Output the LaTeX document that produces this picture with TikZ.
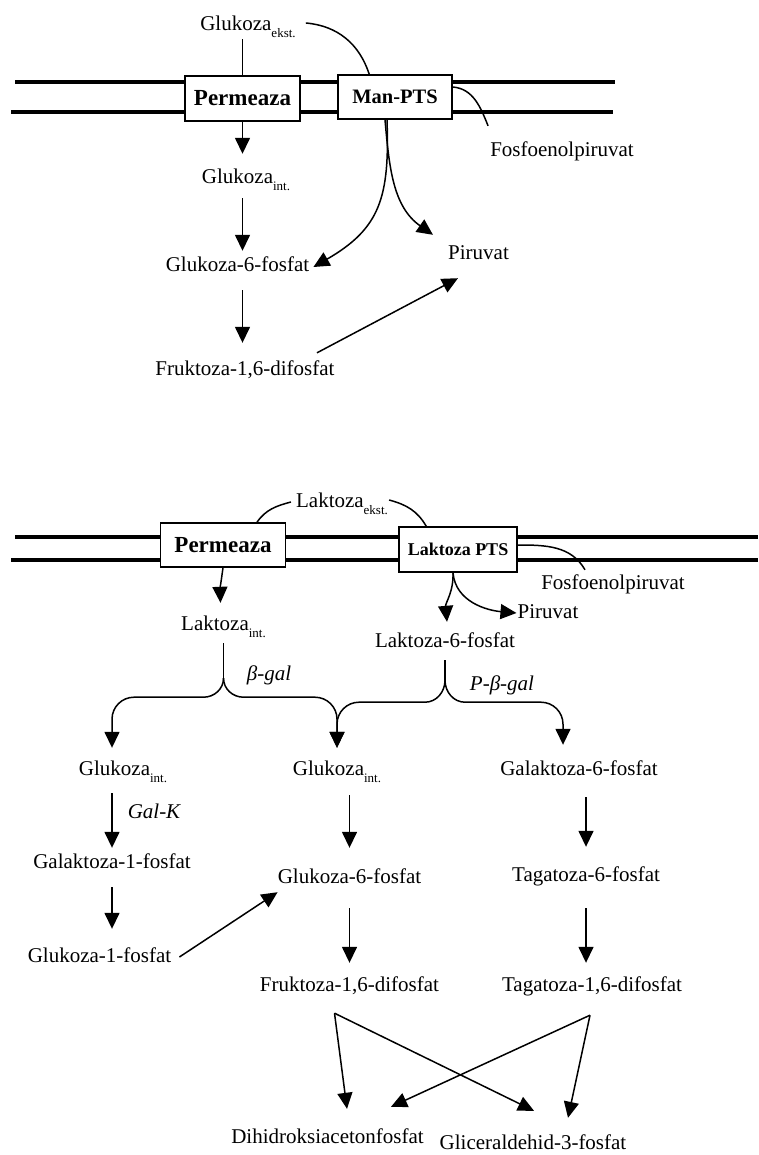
\documentclass[tikz,border=0pt]{standalone}
\usepackage{fontspec}
\setmainfont{Liberation Serif}
\usetikzlibrary{arrows.meta,positioning}
\newcommand{\sbs}[1]{\raisebox{-7pt}{\fontsize{13}{13}\selectfont #1}}

\begin{document}
\begin{tikzpicture}[
  x=1pt, y=1pt,
  lbl/.style = {inner sep=1pt, text height=14pt, text depth=4pt, font=\fontsize{21}{24}\selectfont},
  enz/.style = {lbl, font=\fontsize{21}{24}\selectfont\itshape},
  box/.style = {draw, fill=white, line width=1.6pt, inner sep=0pt, align=center},
  membrane/.style = {line width=3.5pt},
  plain/.style = {line width=1.5pt},
  arr/.style = {-{Triangle[length=16pt, width=15pt]}, line width=1.5pt}
]
\useasboundingbox (0,0) rectangle (758,-1155);

\draw[membrane] (15,-82) -- (615,-82);
\draw[membrane] (11,-112) -- (613,-112);
\draw[membrane] (15,-537) -- (758,-537);
\draw[membrane] (11,-560) -- (758,-560);

\node[lbl] (gekst) at (248,-26) {Glukoza\sbs{ekst.}};
\node[box, minimum width=115pt, minimum height=45pt, font=\fontsize{23}{26}\selectfont\bfseries] (perm1) at (242.5,-98.5) {Permeaza};
\node[box, minimum width=114pt, minimum height=44pt, font=\fontsize{20.5}{24}\selectfont\bfseries] (man) at (395,-97) {Man-PTS};
\node[lbl] (pep1) at (562,-152) {Fosfoenolpiruvat};
\node[lbl] (gint1) at (246,-179) {Glukoza\sbs{int.}};
\node[lbl] (g6p1) at (237.5,-267) {Glukoza-6-fosfat};
\node[lbl] (pir1) at (478.5,-255) {Piruvat};
\node[lbl] (fdp1) at (245,-370) {Fruktoza-1,6-difosfat};

\node[lbl] (lekst) at (342,-502) {Laktoza\sbs{ekst.}};
\node[box, minimum width=125pt, minimum height=44pt, font=\fontsize{23}{26}\selectfont\bfseries] (perm2) at (223,-545) {Permeaza};
\node[box, minimum width=118pt, minimum height=45pt, font=\fontsize{18}{20}\selectfont\bfseries] (lpts) at (458,-549.5) {Laktoza PTS};
\node[lbl] (pep2) at (613,-584) {Fosfoenolpiruvat};
\node[lbl] (pir2) at (548,-613) {Piruvat};
\node[lbl] (lint) at (223.5,-625) {Laktoza\sbs{int.}};
\node[lbl] (l6p) at (445,-642) {Laktoza-6-fosfat};
\node[enz] (bgal) at (269,-675) {β-gal};
\node[enz] (pbgal) at (502,-685) {P-β-gal};
\node[lbl] (gintA) at (123,-770) {Glukoza\sbs{int.}};
\node[lbl] (gintB) at (337,-770) {Glukoza\sbs{int.}};
\node[lbl] (gal6p) at (579,-770) {Galaktoza-6-fosfat};
\node[enz] (galk) at (154,-813) {Gal-K};
\node[lbl] (gal1p) at (112,-863) {Galaktoza-1-fosfat};
\node[lbl] (g6p2) at (349.5,-878) {Glukoza-6-fosfat};
\node[lbl] (tag6p) at (586,-876) {Tagatoza-6-fosfat};
\node[lbl] (g1p) at (99.5,-957) {Glukoza-1-fosfat};
\node[lbl] (fdp2) at (349.5,-986) {Fruktoza-1,6-difosfat};
\node[lbl] (tdp) at (592,-986) {Tagatoza-1,6-difosfat};
\node[lbl] (dhap) at (327.5,-1138) {Dihidroksiacetonfosfat};
\node[lbl] (gap) at (533,-1144) {Gliceraldehid-3-fosfat};

\coordinate (pe1) at ([shift={(-1,16)}]pep1.north west);
\coordinate (pe2) at ([shift={(-28,4)}]pep2.north);
\coordinate (cuspl) at ([yshift=-43pt]lint.south);
\coordinate (cuspr) at ([yshift=-28pt]l6p.south);
\coordinate (forkf) at ([shift={(-15,-17)}]fdp2.south);
\coordinate (forkt) at ([shift={(-2,-19)}]tdp.south);

\draw[plain] (perm1.north) -- ([yshift=-3pt]perm1.north |- gekst.south);
\draw[plain] ([shift={(9,3)}]gekst.east) to[out=-5,in=108] ([xshift=32pt]man.north west);
\draw[plain] ([yshift=10pt]man.east) to[out=-5,in=112] (pe1);
\draw[arr, shorten >=15pt] (perm1.south) -- (perm1.south |- gint1.north);
\draw[arr, shorten <=9pt, shorten >=6pt] (gint1.south -| perm1.south) -- (g6p1.north -| perm1.south);
\draw[arr, shorten <=13pt, shorten >=17pt] (g6p1.south -| perm1.south) -- (fdp1.north -| perm1.south);
\draw[arr] ([xshift=-8pt]man.south) to[out=-88,in=30,looseness=1.2] ([xshift=3pt]g6p1.east);
\draw[arr] ([xshift=-10pt]man.south) to[out=-85,in=145] ([shift={(-14,10)}]pir1.north west);
\draw[arr] ([shift={(72,7)}]fdp1.north) -- ([shift={(11,-13)}]pir1.south west);

\draw[plain] ([xshift=34pt]perm2.north) to[out=55,in=195] ([xshift=-4pt]lekst.west);
\draw[plain] ([yshift=2pt]lekst.east) to[out=-15,in=120] ([xshift=28pt]lpts.north west);
\draw[plain] ([yshift=4.5pt]lpts.east) to[out=0,in=120] (pe2);
\draw[arr] (perm2.south) to[out=-98,in=92] ([shift={(-3,12)}]lint.north);
\draw[arr] ([xshift=-5pt]lpts.south) to[out=-88,in=95] ([shift={(2,10)}]l6p.north);
\draw[arr] ([xshift=-5pt]lpts.south) to[out=-85,in=175] (pir2.west);

\draw[plain, shorten <=8pt] (lint.south) -- (cuspl);
\draw[arr, shorten >=12pt] (cuspl) to[out=-90,in=0] ++(-20,-19) -- ++(-4,0) [rounded corners=22pt] -| (gintA.north -| gal1p);
\draw[arr, shorten >=12pt] (cuspl) to[out=-90,in=180] ++(20,-19) -- ++(4,0) [rounded corners=22pt] -| (gintB.north);
\draw[plain, shorten <=8pt] (l6p.south) -- (cuspr);
\draw[arr, shorten >=12pt] (cuspr) to[out=-90,in=0] ++(-20,-22) -- ++(-4,0) [rounded corners=22pt] -| (gintB.north);
\draw[arr, shorten >=15pt] (cuspr) to[out=-90,in=180] ++(20,-22) -- ++(4,0) [rounded corners=22pt] -| ([xshift=-16pt]gal6p.north);

\draw[arr, shorten <=13pt, shorten >=5pt] (gintA.south -| gal1p) -- (gal1p.north);
\draw[arr, shorten <=14pt, shorten >=18pt] (gal1p.south) -- (g1p.north -| gal1p);
\draw[arr, shorten <=15pt, shorten >=20pt] (gintB.south -| g6p2) -- (g6p2.north);
\draw[arr, shorten <=20pt, shorten >=13pt] (g6p2.south) -- (fdp2.north);
\draw[arr, shorten <=17pt, shorten >=19pt] (gal6p.south -| tag6p) -- (tag6p.north);
\draw[arr, shorten <=22pt, shorten >=13pt] (tag6p.south) -- (tdp.north -| tag6p);
\draw[arr] ([xshift=7pt]g1p.east) -- ([shift={(1,-4)}]g6p2.south west);

\draw[arr] (forkf) -- ([shift={(19.5,19)}]dhap.north);
\draw[arr] (forkf) -- ([shift={(1,23)}]gap.north);
\draw[arr] (forkt) -- ([shift={(63.5,21)}]dhap.north);
\draw[arr] (forkt) -- ([shift={(35,16)}]gap.north);
\end{tikzpicture}
\end{document}
